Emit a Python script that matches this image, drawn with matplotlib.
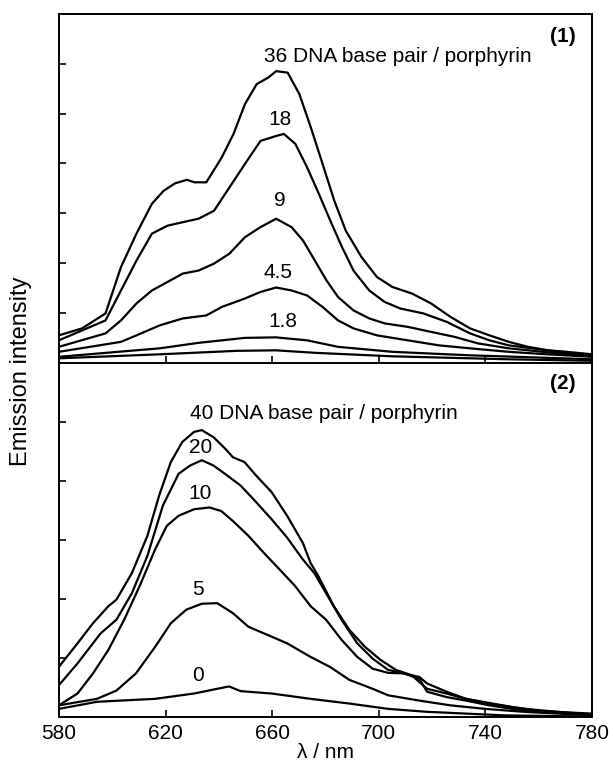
import numpy as np
import matplotlib
matplotlib.use("Agg")
import matplotlib.pyplot as plt

plt.rcParams['font.family'] = ['Liberation Sans', 'DejaVu Sans']

# ---- panel (1): DNA base pair / porphyrin = 36, 18, 9, 4.5, 1.8, 0
wl_36 = [580, 588.7, 597.5, 603.3, 609.1, 614.9, 619.3, 623.6, 628, 630.9, 635.3, 641.1,
         645.5, 649.8, 654.2, 658.5, 661.5, 665.8, 670.2, 674.5, 678.9, 683.3, 687.6,
         693.5, 699.3, 705.1, 712.4, 719.6, 726.9, 734.2, 741.5, 748.7, 756, 763.3, 770.5, 780]
em_36 = [0.55, 0.69, 0.99, 1.92, 2.59, 3.19, 3.45, 3.6, 3.67, 3.62, 3.62, 4.12, 4.59, 5.19,
         5.59, 5.72, 5.85, 5.82, 5.39, 4.72, 3.99, 3.25, 2.65, 2.12, 1.72, 1.52, 1.39, 1.19,
         0.92, 0.69, 0.55, 0.42, 0.32, 0.25, 0.22, 0.17]

wl_18 = [580, 597.5, 603.3, 609.1, 614.9, 620.7, 626.5, 632.4, 638.2, 644, 649.8, 655.6,
         661.5, 664.4, 668.7, 673.1, 677.5, 681.8, 686.2, 690.5, 696.4, 702.2, 708, 716.7,
         725.5, 734.2, 741.5, 748.7, 763.3, 780]
em_18 = [0.45, 0.85, 1.45, 2.05, 2.59, 2.75, 2.82, 2.89, 3.05, 3.52, 3.99, 4.45, 4.55, 4.59,
         4.39, 3.92, 3.39, 2.85, 2.32, 1.85, 1.45, 1.22, 1.09, 0.99, 0.82, 0.59, 0.45, 0.35,
         0.25, 0.15]

wl_9 = [580, 597.5, 603.3, 609.1, 614.9, 620.7, 626.5, 632.4, 638.2, 644, 649.8, 655.6,
        661.5, 667.3, 671.6, 676, 680.4, 684.7, 690.5, 696.4, 702.2, 710.9, 719.6, 728.4,
        737.1, 748.7, 763.3, 780]
em_9 = [0.32, 0.59, 0.85, 1.19, 1.45, 1.62, 1.79, 1.85, 1.99, 2.19, 2.52, 2.72, 2.89, 2.72,
        2.45, 2.05, 1.65, 1.32, 1.05, 0.89, 0.79, 0.72, 0.62, 0.52, 0.39, 0.29, 0.21, 0.13]

wl_45 = [580, 603.3, 609.1, 617.8, 626.5, 635.3, 641.1, 649.8, 655.6, 661.5, 667.3, 673.1,
         678.9, 684.7, 690.5, 699.3, 710.9, 722.5, 734.2, 748.7, 763.3, 780]
em_45 = [0.22, 0.42, 0.55, 0.75, 0.89, 0.95, 1.12, 1.29, 1.42, 1.51, 1.45, 1.35, 1.12, 0.85,
         0.69, 0.55, 0.45, 0.35, 0.29, 0.22, 0.17, 0.12]

wl_18s = [580, 617.8, 632.4, 649.8, 661.5, 673.1, 684.7, 705.1, 734.2, 780]
em_18s = [0.12, 0.29, 0.40, 0.50, 0.51, 0.45, 0.32, 0.22, 0.15, 0.07]

wl_0a = [580, 617.8, 646.9, 661.5, 676, 705.1, 748.7, 780]
em_0a = [0.09, 0.17, 0.24, 0.25, 0.20, 0.13, 0.07, 0.04]

# ---- panel (2): DNA base pair / porphyrin = 40, 20, 10, 5, 0
wl_40 = [580, 587, 592.8, 598.6, 601.6, 607.4, 613.2, 617.6, 622, 626.3, 630.7, 633.6, 638,
         642.3, 645.3, 649.6, 654, 659.8, 665.6, 671.5, 674.4, 677.3, 683.1, 688.9, 694.8,
         700.6, 706.4, 712.3, 718.1, 725.4, 732.7, 741.4, 750.1, 761.8, 780]
em_40 = [0.85, 1.25, 1.59, 1.88, 1.99, 2.44, 3.07, 3.75, 4.32, 4.66, 4.83, 4.86, 4.74, 4.55,
         4.4, 4.32, 4.09, 3.81, 3.41, 2.95, 2.61, 2.39, 1.88, 1.48, 1.19, 0.97, 0.8, 0.71,
         0.48, 0.4, 0.31, 0.24, 0.17, 0.1, 0.06]

wl_20 = [580, 587, 595.7, 601.6, 607.4, 613.2, 619, 624.9, 629.2, 633.6, 638, 642.3, 648.2,
         654, 659.8, 665.6, 671.5, 675.8, 680.2, 686, 691.9, 697.7, 703.5, 709.4, 715.2,
         718.1, 725.4, 732.7, 741.4, 754.5, 780]
em_20 = [0.54, 0.91, 1.42, 1.65, 2.1, 2.73, 3.58, 4.12, 4.26, 4.35, 4.26, 4.12, 3.92, 3.64,
         3.35, 3.04, 2.67, 2.44, 2.1, 1.65, 1.25, 0.99, 0.8, 0.74, 0.65, 0.43, 0.34, 0.28,
         0.2, 0.11, 0.04]

wl_10 = [580, 587, 592.8, 598.6, 604.5, 610.3, 616.1, 620.5, 624.9, 630.7, 636.5, 640.9,
         645.3, 651.1, 656.9, 662.8, 668.6, 674.4, 680.2, 686, 691.9, 697.7, 703.5, 709.4,
         715.2, 718.1, 725.4, 732.7, 741.4, 754.5, 780]
em_10 = [0.2, 0.4, 0.74, 1.14, 1.65, 2.22, 2.84, 3.24, 3.41, 3.52, 3.55, 3.49, 3.32, 3.07,
         2.78, 2.5, 2.22, 1.88, 1.65, 1.31, 1.02, 0.82, 0.75, 0.74, 0.68, 0.57, 0.43, 0.31,
         0.23, 0.14, 0.04]

wl_5 = [580, 594.3, 601.6, 608.9, 616.1, 622, 627.8, 633.6, 639.4, 645.3, 651.1, 658.4,
        665.6, 674.4, 681.7, 689, 697.7, 703.5, 715.2, 726.8, 739.9, 754.5, 780]
em_5 = [0.2, 0.31, 0.45, 0.74, 1.19, 1.59, 1.82, 1.92, 1.93, 1.76, 1.53, 1.39, 1.25, 1.02,
        0.85, 0.63, 0.48, 0.37, 0.28, 0.2, 0.14, 0.09, 0.03]

wl_0 = [580, 594.3, 616.1, 630.7, 639.4, 643.8, 648.2, 659.8, 674.4, 689, 703.5, 718.1,
        747.2, 780]
em_0 = [0.14, 0.26, 0.31, 0.4, 0.48, 0.52, 0.44, 0.4, 0.31, 0.23, 0.14, 0.09, 0.03, 0.01]

xticks = [580, 620, 660, 700, 740, 780]

fig = plt.figure(figsize=(6.13, 7.67), dpi=100)
ax1 = fig.add_axes([0.096, 0.527, 0.870, 0.455])
ax2 = fig.add_axes([0.096, 0.065, 0.870, 0.462])

lw = 1.6
for wl, em in ((wl_36, em_36), (wl_18, em_18), (wl_9, em_9), (wl_45, em_45),
               (wl_18s, em_18s), (wl_0a, em_0a)):
    ax1.plot(wl, em, color='black', lw=lw)
for wl, em in ((wl_40, em_40), (wl_20, em_20), (wl_10, em_10), (wl_5, em_5), (wl_0, em_0)):
    ax2.plot(wl, em, color='black', lw=lw)

ax1.set_ylim(0, 7.0)
ax2.set_ylim(0, 6.0)
for ax, yt in ((ax1, [1, 2, 3, 4, 5, 6]), (ax2, [1, 2, 3, 4, 5])):
    ax.set_xlim(580, 780)
    ax.set_xticks(xticks)
    ax.set_yticks(yt)
    ax.set_yticklabels([])
    ax.tick_params(direction='in', length=5, width=1.2, labelsize=15, pad=5)
    for s in ax.spines.values():
        s.set_linewidth(1.4)
ax1.set_xticklabels([])
ax2.set_xlabel('λ / nm', fontsize=15, labelpad=0)

txt = dict(fontsize=15, ha='center', va='center')
ax1.text(769, 6.54, '(1)', fontweight='bold', **txt)
ax1.text(707, 6.14, '36 DNA base pair / porphyrin', **txt)
ax1.text(663, 4.89, '18', **txt)
ax1.text(663, 3.25, '9', **txt)
ax1.text(662, 1.82, '4.5', **txt)
ax1.text(664, 0.82, '1.8', **txt)

ax2.text(769, 5.65, '(2)', fontweight='bold', **txt)
ax2.text(679.5, 5.14, '40 DNA base pair / porphyrin', **txt)
ax2.text(633, 4.57, '20', **txt)
ax2.text(633, 3.78, '10', **txt)
ax2.text(632, 2.16, '5', **txt)
ax2.text(632, 0.71, '0', **txt)

fig.text(0.034, 0.516, 'Emission intensity', rotation=90, ha='center', va='center',
         fontsize=17)

fig.savefig('out.png', dpi=100)
